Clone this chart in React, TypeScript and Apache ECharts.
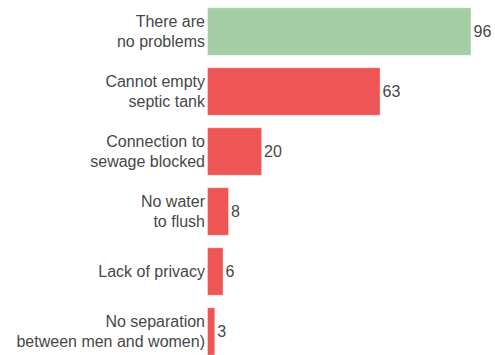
import React, { useEffect, useRef } from "react";
import * as echarts from "echarts";

const categories = [
  "There are\nno problems",
  "Cannot empty\nseptic tank",
  "Connection to\nsewage blocked",
  "No water\nto flush",
  "Lack of privacy",
  "No separation\nbetween men and women)",
];
const values = [96, 63, 20, 8, 6, 3];
const barColors = ["#a4cda4", "#ee5656", "#ee5656", "#ee5656", "#ee5656", "#ee5656"];

export default function App() {
  const ref = useRef<HTMLDivElement>(null);
  useEffect(() => {
    const chart = echarts.init(ref.current!, null, { renderer: "svg" });
    chart.setOption({
      animation: false,
      grid: { left: 207, right: 23.5, top: 1.5, height: 360, outerBoundsMode: "none" },
      xAxis: {
        type: "value",
        min: 0,
        max: 96,
        show: false,
      },
      yAxis: {
        type: "category",
        inverse: true,
        data: categories,
        axisLine: { show: false },
        axisTick: { show: false },
        axisLabel: {
          margin: 2,
          color: "#474747",
          fontFamily: "Liberation Sans, Arial, sans-serif",
          fontSize: 16,
          lineHeight: 20,
          align: "right",
        },
      },
      series: [
        {
          type: "bar",
          barWidth: 48.5,
          data: values.map((v, i) => ({
            value: v,
            itemStyle: {
              color: barColors[i],
              borderColor: "rgba(255,255,255,0.35)",
              borderWidth: 1,
            },
          })),
          label: {
            show: true,
            position: "right",
            distance: 2,
            color: "#474747",
            fontFamily: "Liberation Sans, Arial, sans-serif",
            fontSize: 16,
          },
        },
      ],
    });
    return () => chart.dispose();
  }, []);
  return (
    <div
      ref={ref}
      style={{ position: "fixed", left: 0, top: 0, width: 495, height: 355, background: "#fff" }}
    />
  );
}
